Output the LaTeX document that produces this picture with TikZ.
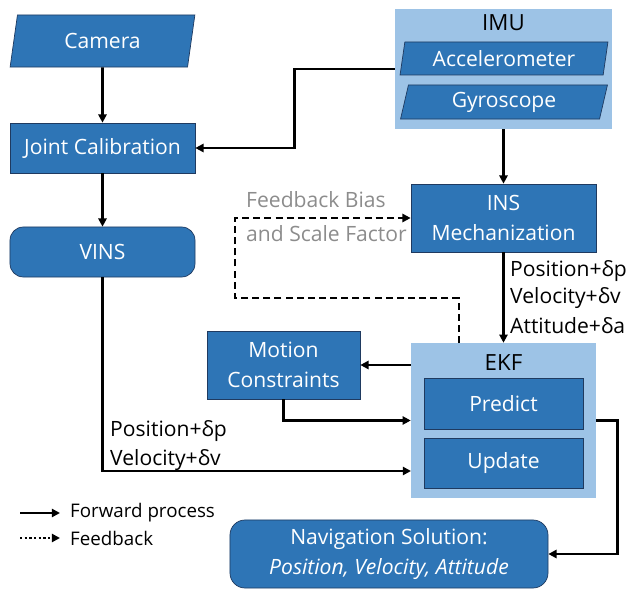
\documentclass[tikz,border=0pt]{standalone}
\usepackage{fontspec}
\setmainfont{Open Sans}
\usetikzlibrary{arrows.meta,shapes.geometric}
\definecolor{boxblue}{HTML}{2E75B6}
\definecolor{boxedge}{HTML}{1F3A60}
\definecolor{groupblue}{HTML}{9DC3E6}
\definecolor{fbgray}{HTML}{8C8C8C}
\tikzset{
	block/.style={draw=boxedge, line width=0.6pt, fill=boxblue, text=white, align=center, inner sep=0pt},
	rblock/.style={block, rounded corners=0.4cm},
	sensor/.style={block, trapezium, trapezium left angle=78, trapezium right angle=102, trapezium stretches=true},
	group/.style={fill=groupblue, inner sep=0pt},
	fwd/.style={line width=2.2pt, -{Triangle[length=7pt,width=7pt]}},
	fb/.style={fwd, dash pattern=on 6pt off 3.5pt},
	lbl/.style={anchor=west, inner sep=0pt, align=left},
}
\begin{document}
\begin{tikzpicture}[x=0.03cm, y=-0.03cm, font=\fontsize{18}{25}\selectfont]
		%%%%% START %%%%%
		\useasboundingbox (0,0) rectangle (630,590);
		
		% left column
		\node[sensor, minimum width=5.55cm, minimum height=1.56cm] (cam) at (102.5,41) {Camera};
		\node[block, minimum width=5.55cm, minimum height=1.5cm] (jc) at (102.5,148) {Joint Calibration};
		\node[rblock, minimum width=5.55cm, minimum height=1.5cm] (vins) at (102.5,252) {VINS};
		
		% IMU group
		\node[group, minimum width=6.51cm, minimum height=3.6cm] (imu) at (503.5,69) {};
		\node[inner sep=0pt, font=\fontsize{19}{25}\selectfont] (imut) at (503.5,23) {IMU};
		\node[sensor, minimum width=6.24cm, minimum height=0.99cm] (acc) at (504,58.5) {Accelerometer};
		\node[sensor, minimum width=6.24cm, minimum height=1.02cm] (gyr) at (504,102) {Gyroscope};
		
		\node[block, minimum width=5.55cm, minimum height=2.04cm] (ins) at (503.5,218) {INS\\Mechanization};
		
		% EKF group
		\node[group, minimum width=5.55cm, minimum height=4.65cm] (ekf) at (503.5,420.5) {};
		\node[inner sep=0pt, font=\fontsize{19}{25}\selectfont] (ekft) at (503.5,363) {EKF};
		\node[block, minimum width=4.77cm, minimum height=1.53cm] (pred) at (503.5,403.5) {Predict};
		\node[block, minimum width=4.77cm, minimum height=1.5cm] (upd) at (503.5,463) {Update};
		
		\node[block, minimum width=4.59cm, minimum height=2.04cm] (mc) at (283.5,365) {Motion\\Constraints};
		\node[rblock, minimum width=9.54cm, minimum height=2.04cm, rounded corners=0.45cm] (nav) at (389,554) {Navigation Solution:\\\textit{Position, Velocity, Attitude}};
		
		% labels
		\node[lbl] (insp) at (510,271) {Position+δp};
		\node[lbl] (insv) at (510,298) {Velocity+δv};
		\node[lbl] (insa) at (510,326) {Attitude+δa};
		\node[lbl] (vinsp) at (110,431) {Position+δp};
		\node[lbl] (vinsv) at (110,460) {Velocity+δv};
		\node[lbl, text=fbgray, font=\fontsize{18}{29}\selectfont] (fbt) at (246,217) {Feedback Bias\\and Scale Factor};
		
		% connectors
		\draw[fwd] (cam) -- (jc);
		\draw[fwd] (jc) -- (vins);
		\draw[fwd] (imu.west) -- ++(-100,0) |- (jc.east);
		\draw[fwd] (imu.south) -- (ins.north);
		\draw[fwd] (ins.south) -- (ekf.north);
		\draw[fwd] (mc.east -| ekf.west) -- (mc.east);
		\draw[fwd] (mc.south) |- (ekf.west);
		\coordinate (vinsin) at (411,471);
		\draw[fwd] (vins.south) |- (vinsin);
		\draw[fwd] (ekf.east) -- ++(21,0) |- (nav.east);
		\coordinate (fbout) at (459,343);
		\coordinate (fbturn) at (235,298);
		\draw[fb] (fbout) |- (fbturn) |- (ins.west);
		
		% legend
		\coordinate (lgfs) at (20,513);
		\coordinate (lgbs) at (20,538);
		\node[lbl, font=\fontsize{16}{20}\selectfont] (lgf) at (70,513) {Forward process};
		\node[lbl, font=\fontsize{16}{20}\selectfont] (lgb) at (70,538) {Feedback};
		\draw[fwd, shorten >=0.3cm] (lgfs) -- (lgf.west);
		\draw[fwd, dash pattern=on 2pt off 2pt, shorten >=0.3cm] (lgbs) -- (lgb.west);
		%%%%% END %%%%%
\end{tikzpicture}
\end{document}
